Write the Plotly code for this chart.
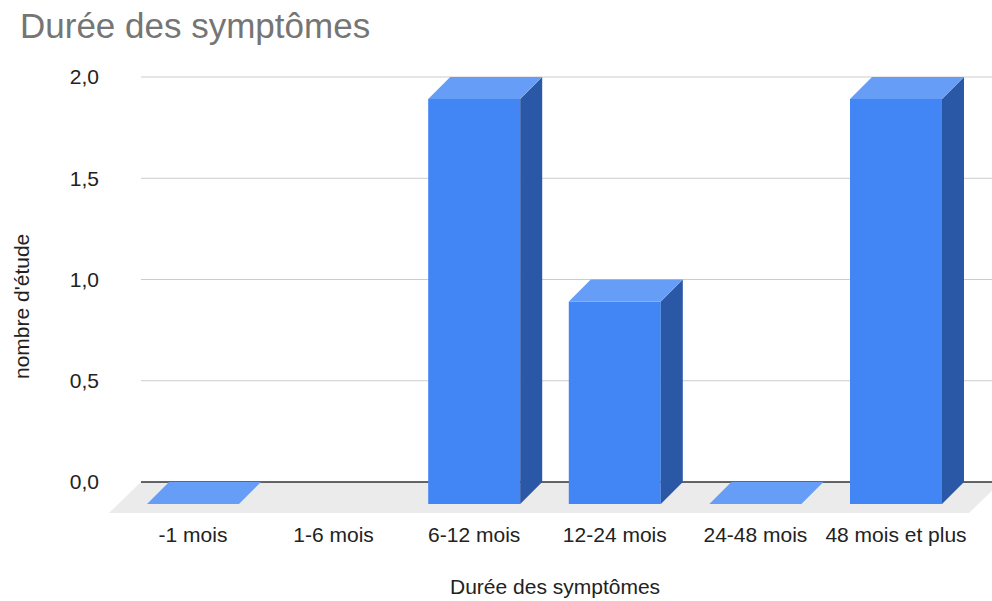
import plotly.graph_objects as go

# ---- data ----
categories = ["-1 mois", "1-6 mois", "6-12 mois", "12-24 mois", "24-48 mois", "48 mois et plus"]
values = [0, None, 2, 1, 0, 2]
y_tickvals = [0, 0.5, 1.0, 1.5, 2.0]
y_ticktext = ["0,0", "0,5", "1,0", "1,5", "2,0"]
title_text = "Durée des symptômes"
x_title = "Durée des symptômes"
y_title = "nombre d'étude"

# ---- geometry (pixel calibration of the axes) ----
W, H = 992, 601
L, R, T, B = 104, 0, 60, 81
X0PX, XSTEP = 193.0, 140.6      # pixel of category 0 front centre, category step
Y0PX, YUNIT = 482.0, 202.5      # pixel of value 0 on back wall, pixels per unit

xr = [(L - X0PX) / XSTEP, (W - R - X0PX) / XSTEP]
yr = [(Y0PX - (H - B)) / YUNIT, (Y0PX - T) / YUNIT]

BW = 92 / XSTEP                  # bar width in category units
DXB, DYB = 22 / XSTEP, 22 / YUNIT  # bar depth
DXF, DYF = 32 / XSTEP, 31 / YUNIT  # floor depth
XB0, XB1 = (141 - X0PX) / XSTEP, (1001 - X0PX) / XSTEP  # back wall extent

FRONT = "#4285F4"
TOP = "#669DF6"
SIDE = "#2B58A6"
FONT = "Liberation Sans, Arial, sans-serif"
TXT = "#222222"

fig = go.Figure()

shapes = []
# floor
shapes.append(dict(type="path", xref="x", yref="y", layer="below",
                   path=f"M {XB0} 0 L {XB1} 0 L {XB1 - DXF} {-DYF} L {XB0 - DXF} {-DYF} Z",
                   fillcolor="#EBEBEB", line=dict(width=0)))
# gridlines
for v in y_tickvals:
    if v == 0:
        continue
    shapes.append(dict(type="line", xref="x", yref="y", layer="below",
                       x0=XB0, x1=XB1, y0=v, y1=v, line=dict(color="#CCCCCC", width=1)))
# zero line
shapes.append(dict(type="line", xref="x", yref="y", layer="below",
                   x0=XB0, x1=XB1, y0=0, y1=0, line=dict(color="#333333", width=1.5)))

def poly(xs, ys, color):
    fig.add_trace(go.Scatter(x=xs + [xs[0]], y=ys + [ys[0]], mode="lines", fill="toself",
                             fillcolor=color, line=dict(width=0, color=color),
                             hoverinfo="skip", showlegend=False))

for i, v in enumerate(values):
    if v is None:
        continue
    xl, xrt = i - BW / 2, i + BW / 2
    if v > 0:
        # front face
        poly([xl, xrt, xrt, xl], [-DYB, -DYB, v - DYB, v - DYB], FRONT)
        # side face
        poly([xrt, xrt + DXB, xrt + DXB, xrt], [-DYB, 0, v, v - DYB], SIDE)
    # top face
    poly([xl, xrt, xrt + DXB, xl + DXB], [v - DYB, v - DYB, v, v], TOP)

fig.update_layout(
    width=W, height=H,
    margin=dict(l=L, r=R, t=T, b=B),
    paper_bgcolor="white", plot_bgcolor="white",
    font=dict(family=FONT, size=21, color=TXT),
    shapes=shapes,
    title=dict(text=title_text, x=20 / W, xanchor="left", xref="container",
               y=1 - 26 / H, yanchor="middle", yref="container",
               font=dict(family=FONT, size=35, color="#757575")),
    xaxis=dict(range=xr, tickmode="array", tickvals=list(range(len(categories))),
               ticktext=categories, showgrid=False, zeroline=False, showline=False,
               ticks="", tickfont=dict(size=21, color=TXT), automargin=False),
    yaxis=dict(range=yr, tickmode="array", tickvals=y_tickvals, ticktext=y_ticktext,
               showgrid=False, zeroline=False, showline=False, ticks="",
               ticklabelstandoff=4,
               tickfont=dict(size=21, color=TXT), automargin=False),
    annotations=[
        dict(text=x_title, xref="paper", yref="paper", x=(555 - L) / (W - L - R),
             y=-(586 - (H - B)) / (H - T - B), xanchor="center", yanchor="middle",
             showarrow=False, font=dict(size=21, color=TXT)),
        dict(text=y_title, xref="paper", yref="paper", x=-(L - 21) / (W - L - R),
             y=1 - (307 - T) / (H - T - B), xanchor="center", yanchor="middle",
             textangle=-90, showarrow=False, font=dict(size=21, color=TXT)),
    ],
)

fig.write_html("out.html", config={"displayModeBar": False},
               post_script="document.body.style.margin='0';document.body.style.padding='0';")
